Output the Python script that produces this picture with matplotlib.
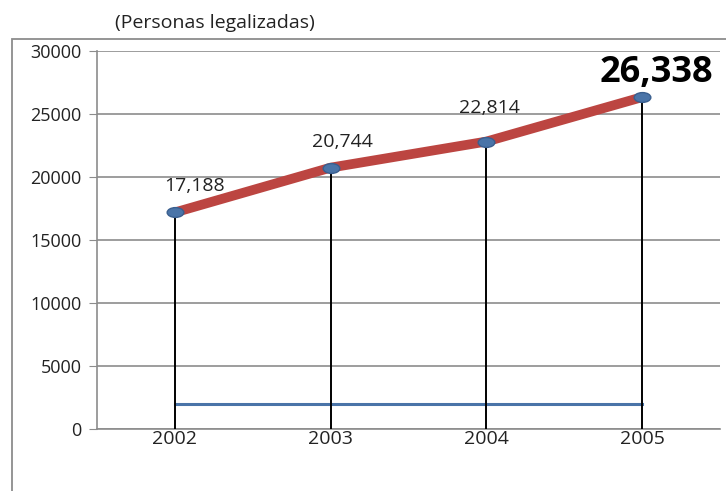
import numpy as np
import matplotlib.pyplot as plt
from matplotlib.path import Path
from matplotlib.patches import Rectangle

years = ["2002", "2003", "2004", "2005"]
personas = [17188, 20744, 22814, 26338]
labels = ["17,188", "20,744", "22,814", "26,338"]
base_line = [2000, 2000, 2000, 2000]
yticks = [0, 5000, 10000, 15000, 20000, 25000, 30000]

plt.rcParams['font.family'] = ['Open Sans', 'DejaVu Sans']

fig = plt.figure(figsize=(7.26, 4.91), dpi=100)
ax = fig.add_axes([97/726, 1-429/491, 623/726, (429-51)/491])

x = np.arange(len(years))

# gridlines
for v in yticks:
    ax.axhline(v, color="#8c8c8c", lw=1.2, zorder=1)

# drop lines
ax.vlines(x, -150, personas, color="black", lw=1.4, zorder=3)

# blue base line
ax.plot(x, base_line, color="#4a74a8", lw=2.2, zorder=2)

# ellipse marker
circ = Path.unit_circle()
ell = Path(circ.vertices * [1.7, 1.0], circ.codes)

ax.plot(x, personas, color="#bc4541", lw=7, solid_capstyle="round", zorder=4)
ax.plot(x, personas, ls="none", marker=ell, markersize=12,
        markerfacecolor="#4a74a8", markeredgecolor="#3a5f8f", zorder=5)

offsets = [(20, 2100), (12, 2000), (3, 2700)]
for i, (lab, v) in enumerate(zip(labels, personas)):
    if i == 3:
        ax.text(i + 0.09, v + 1900, lab, ha="center", va="center",
                fontsize=26, fontweight="bold", color="black", zorder=6)
    else:
        dx, dy = offsets[i]
        ax.text(i + dx / 156, v + dy, lab, ha="center", va="center",
                fontsize=14, color="#222222", zorder=6)

ax.set_xlim(-0.5, 3.5)
ax.set_ylim(0, 30000)
ax.set_yticks(yticks)
ax.set_yticklabels([str(v) for v in yticks], fontsize=13, color="#222222")
ax.set_xticks(x)
ax.set_xticklabels(years, fontsize=14, color="#222222")
ax.tick_params(axis="y", length=6, color="#8c8c8c", pad=5)
ax.tick_params(axis="x", length=0, pad=1)
for s in ["top", "right"]:
    ax.spines[s].set_visible(False)
ax.spines["left"].set_color("#8c8c8c")
ax.spines["bottom"].set_color("#8c8c8c")
ax.spines["left"].set_linewidth(1.2)
ax.spines["bottom"].set_linewidth(1.2)

fig.text(215/726, 1-23/491, "(Personas legalizadas)", ha="center", va="center",
         fontsize=14, color="#222222")

# outer frame
fig.patches.append(Rectangle((12/726, -0.05), 1.0, 1-39/491+0.05,
                             transform=fig.transFigure, fill=False,
                             edgecolor="#8c8c8c", lw=1.3))

plt.savefig("out.png", dpi=100)
